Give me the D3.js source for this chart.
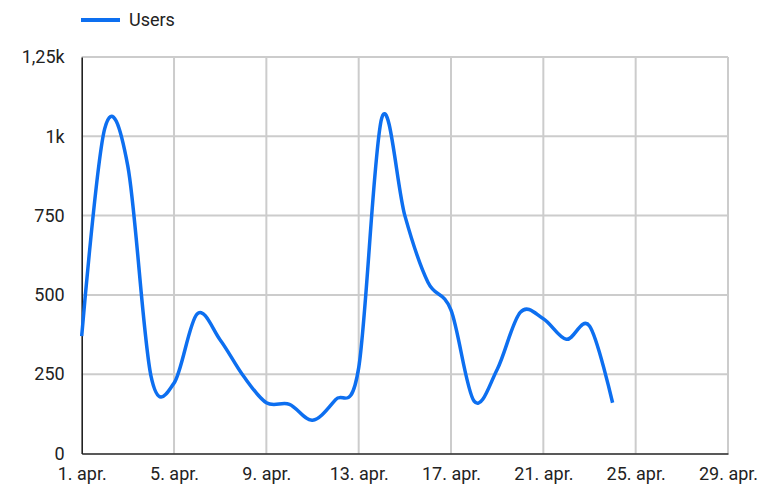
<!DOCTYPE html>
<html><head><meta charset="utf-8">
<script src="https://cdn.jsdelivr.net/npm/d3@7"></script>
<style>
html,body{margin:0;padding:0;background:#fff;}
svg text{font-family:Roboto, "Liberation Sans", sans-serif;}
</style></head>
<body><svg id="chart" width="767" height="488"></svg>
<script>
const seriesName = "Users";
const days = [1,2,3,4,5,6,7,8,9,10,11,12,13,14,15,16,17,18,19,20,21,22,23,24];
const users = [370,1025,905,245,222,440,358,245,160,155,105,170,270,1058,750,540,452,165,265,445,425,360,402,160];
const xTickDays = [1,5,9,13,17,21,25,29];
const xTickLabels = ["1. apr.","5. apr.","9. apr.","13. apr.","17. apr.","21. apr.","25. apr.","29. apr."];
const yTickValues = [0,250,500,750,1000,1250];
const yTickLabels = ["0","250","500","750","1k","1,25k"];

(function(){
const svg = d3.select("#chart");
const mLeft = 81.7, mRight = 728, mTop = 57, mBottom = 453.5;
const x = d3.scaleLinear().domain([1,29]).range([mLeft,mRight]);
const y = d3.scaleLinear().domain([0,1250]).range([mBottom,mTop]);
const lineColor = "#0d6ff0";

// grid
const grid = svg.append("g");
grid.selectAll("line.v").data(xTickDays.slice(1)).join("line")
  .attr("x1", d=>x(d)).attr("x2", d=>x(d)).attr("y1", mTop).attr("y2", mBottom)
  .attr("stroke", "#cccccc").attr("stroke-width", 2);
grid.selectAll("line.h").data(yTickValues.slice(1)).join("line")
  .attr("x1", mLeft).attr("x2", mRight).attr("y1", d=>y(d)).attr("y2", d=>y(d))
  .attr("stroke", "#cccccc").attr("stroke-width", 2);

// axes
const xAxis = d3.axisBottom(x).tickValues(xTickDays)
  .tickFormat((d,i)=>xTickLabels[i]).tickSize(0).tickPadding(14);
const gx = svg.append("g").attr("transform", `translate(0,${mBottom})`).call(xAxis);
gx.select(".domain").attr("stroke","#222").attr("stroke-width",1.6);
gx.selectAll("text").attr("font-size", 18).attr("fill", "#222").attr("dy","0.71em");

const yAxis = d3.axisLeft(y).tickValues(yTickValues)
  .tickFormat((d,i)=>yTickLabels[i]).tickSize(0).tickPadding(17);
const gy = svg.append("g").attr("transform", `translate(${mLeft},0)`).call(yAxis);
gy.select(".domain").attr("stroke","#222").attr("stroke-width",1.6);
gy.selectAll("text").attr("font-size", 18).attr("fill", "#222");

// line
const data = days.map((d,i)=>({day:d, v:users[i]}));
const line = d3.line().x(d=>x(d.day)).y(d=>y(d.v)).curve(d3.curveCardinal.tension(0));
svg.append("path").datum(data).attr("d", line)
  .attr("fill","none").attr("stroke", lineColor).attr("stroke-width", 3.5)
  .attr("stroke-linejoin","round").attr("stroke-linecap","butt");

// legend
const lg = svg.append("g");
lg.append("line").attr("x1",81).attr("x2",120).attr("y1",20).attr("y2",20)
  .attr("stroke", lineColor).attr("stroke-width",4);
lg.append("text").attr("x",129).attr("y",20).attr("dy","0.35em")
  .attr("font-size",18).attr("fill","#222").text(seriesName);
})();
</script></body></html>
